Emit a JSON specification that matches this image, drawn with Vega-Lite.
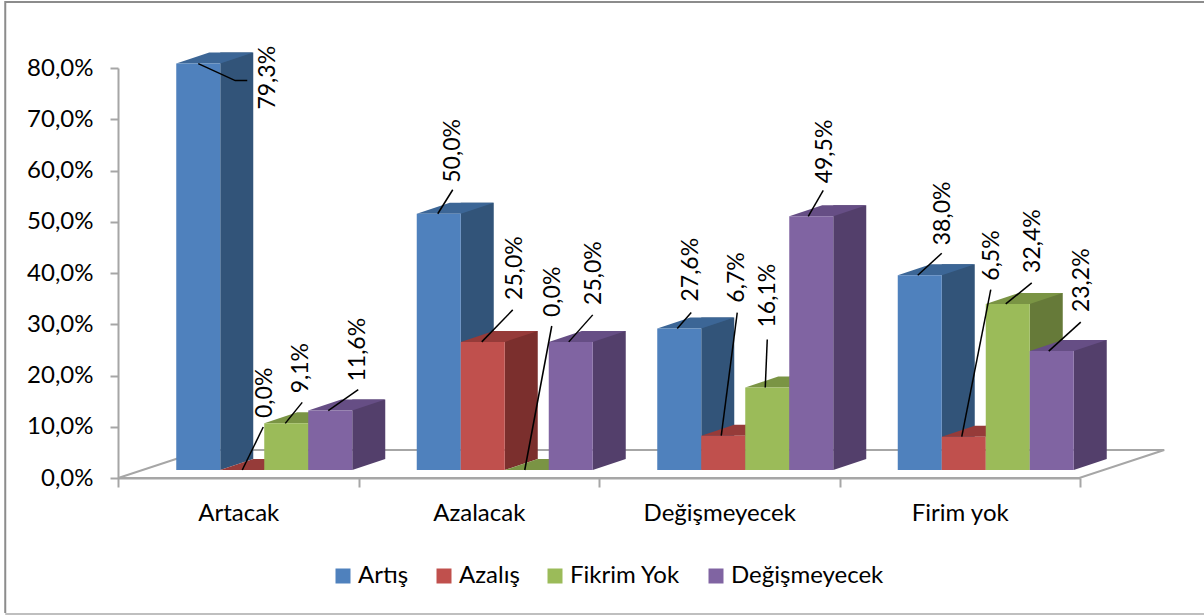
{"$schema":"https://vega.github.io/schema/vega-lite/v6.json","width":962,"height":410,"autosize":"none","padding":{"left":118,"top":68,"right":124,"bottom":137},"background":"white","config":{"view":{"stroke":null},"locale":{"number":{"decimal":",","thousands":".","grouping":[3],"currency":["","\u00a0TL"],"percent":"%"}},"font":"Lato"},"data":{"values":[{"id":"a1","group":"Artacak","series":"Artış","value":0.793},{"id":"a2","group":"Artacak","series":"Azalış","value":0},{"id":"a3","group":"Artacak","series":"Fikrim Yok","value":0.091},{"id":"a4","group":"Artacak","series":"Değişmeyecek","value":0.116},{"id":"b1","group":"Azalacak","series":"Artış","value":0.5},{"id":"b2","group":"Azalacak","series":"Azalış","value":0.25},{"id":"b3","group":"Azalacak","series":"Fikrim Yok","value":0},{"id":"b4","group":"Azalacak","series":"Değişmeyecek","value":0.25},{"id":"c1","group":"Değişmeyecek","series":"Artış","value":0.276},{"id":"c2","group":"Değişmeyecek","series":"Azalış","value":0.067},{"id":"c3","group":"Değişmeyecek","series":"Fikrim Yok","value":0.161},{"id":"c4","group":"Değişmeyecek","series":"Değişmeyecek","value":0.495},{"id":"d1","group":"Firim yok","series":"Artış","value":0.38},{"id":"d2","group":"Firim yok","series":"Azalış","value":0.065},{"id":"d3","group":"Firim yok","series":"Fikrim Yok","value":0.324},{"id":"d4","group":"Firim yok","series":"Değişmeyecek","value":0.232}]},"encoding":{"x":{"field":"group","type":"nominal","scale":{"domain":["Artacak","Azalacak","Değişmeyecek","Firim yok"],"paddingInner":0,"paddingOuter":0},"axis":{"title":null,"labelAngle":0,"tickBand":"extent","tickSize":9,"tickWidth":2,"tickColor":"#A6A6A6","domainColor":"#A6A6A6","domainWidth":2,"labelFont":"Lato","labelFontSize":24,"labelColor":"#000000","labelPadding":14,"grid":false}},"xOffset":{"field":"series","type":"nominal","scale":{"type":"point","domain":["Artış","Azalış","Fikrim Yok","Değişmeyecek"],"range":[58.25,190.25],"padding":0}},"y":{"field":"value","type":"quantitative","stack":null,"scale":{"domain":[0,0.8],"nice":false},"axis":{"title":null,"values":[0,0.1,0.2,0.3,0.4,0.5,0.6,0.7,0.8],"format":".1%","tickSize":8,"tickWidth":2,"tickColor":"#A6A6A6","domainColor":"#A6A6A6","domainWidth":2,"labelFont":"Lato","labelFontSize":24,"labelColor":"#000000","labelPadding":17,"grid":false}}},"resolve":{"scale":{"color":"independent","shape":"independent","xOffset":"independent"}},"layer":[{"transform":[{"filter":"datum.id==='a1'"}],"mark":{"type":"point","size":4,"filled":false,"opacity":1,"stroke":"#8C8C8C","strokeWidth":2,"shape":"M-171,135 L-171,-476 L1028,-476"},"encoding":{"y":{"datum":0}}},{"transform":[{"filter":"datum.id==='a1'"}],"mark":{"type":"point","size":4,"filled":false,"opacity":1,"stroke":"#BFBFBF","strokeWidth":2,"shape":"M-171,136 L1028,136"},"encoding":{"y":{"datum":0}}},{"transform":[{"filter":"datum.id==='a1'"}],"mark":{"type":"point","size":4,"filled":false,"opacity":1,"stroke":"#A6A6A6","strokeWidth":2,"shape":"M-58,0 L903,0 L988,-28 L27,-28 Z"},"encoding":{"y":{"datum":0}}},{"mark":{"type":"bar","width":33,"yOffset":-19,"y2Offset":-19},"encoding":{"y2":{"datum":0},"xOffset":{"field":"series","type":"nominal","scale":{"type":"band","domain":["Artış","Azalış","Fikrim Yok","Değişmeyecek"],"range":[96.75,272.75],"paddingInner":0,"paddingOuter":0}},"color":{"field":"series","type":"nominal","legend":null,"scale":{"domain":["Artış","Azalış","Fikrim Yok","Değişmeyecek"],"range":["#325479","#7B2F2D","#667A39","#533F6B"]}}}},{"transform":[{"filter":"datum.value>0"}],"mark":{"type":"point","size":4,"filled":true,"opacity":1,"yOffset":-8,"shape":"M44,0 L44,-11 L77,-11 Z"},"encoding":{"y":{"datum":0},"color":{"field":"series","type":"nominal","legend":null,"scale":{"domain":["Artış","Azalış","Fikrim Yok","Değişmeyecek"],"range":["#325479","#7B2F2D","#667A39","#533F6B"]}}}},{"mark":{"type":"point","size":4,"filled":true,"opacity":1,"yOffset":-8,"shape":"M0,0 L44,0 L77,-11 L33,-11 Z"},"encoding":{"color":{"field":"series","type":"nominal","legend":null,"scale":{"domain":["Artış","Azalış","Fikrim Yok","Değişmeyecek"],"range":["#3C6696","#963B39","#7A9444","#664E85"]}}}},{"mark":{"type":"bar","width":44,"yOffset":-8,"y2Offset":-8},"encoding":{"y2":{"datum":0},"xOffset":{"field":"series","type":"nominal","scale":{"type":"band","domain":["Artış","Azalış","Fikrim Yok","Değişmeyecek"],"range":[58.25,234.25],"paddingInner":0,"paddingOuter":0}},"color":{"field":"series","type":"nominal","scale":{"domain":["Artış","Azalış","Fikrim Yok","Değişmeyecek"],"range":["#4F81BD","#C0504D","#9BBB59","#8064A2"]},"legend":{"title":null,"orient":"none","legendX":213,"legendY":496,"direction":"horizontal","columns":4,"gridAlign":"none","symbolType":"square","symbolSize":225,"symbolStrokeWidth":0,"symbolOpacity":1,"labelFont":"Lato","labelFontSize":24,"labelColor":"#000000","labelOffset":3,"columnPadding":23,"labelLimit":300}}}},{"mark":{"type":"point","size":4,"filled":false,"opacity":1,"stroke":"#000000","strokeWidth":1.5,"yOffset":-8},"encoding":{"shape":{"field":"id","type":"nominal","legend":null,"scale":{"domain":["a1","a2","a3","a4","b1","b2","b3","b4","c1","c2","c3","c4","d1","d2","d3","d4"],"range":["M22,0 L59,17 L71,17","M22,0 L43,-43","M21,0 L38,-21","M20,0 L50,-21","M21,0 L36,-24","M21,0 L52,-32","M20,0 L47,-144","M20,0 L44,-27","M20,0 L34,-16","M20,0 L36,-123","M20,0 L22,-48","M19,0 L34,-26","M20,0 L44,-22","M20,0 L49,-147","M20,0 L46,-21","M19,0 L51,-29"]}}}},{"transform":[{"filter":"datum.id==='a1'"}],"mark":{"type":"text","angle":270,"align":"left","baseline":"middle","font":"Lato","fontSize":23,"color":"#000000","yOffset":-8,"dx":-46,"dy":92},"encoding":{"text":{"field":"value","type":"quantitative","format":".1%"}}},{"transform":[{"filter":"datum.id==='a2'"}],"mark":{"type":"text","angle":270,"align":"left","baseline":"middle","font":"Lato","fontSize":23,"color":"#000000","yOffset":-8,"dx":52,"dy":45},"encoding":{"text":{"field":"value","type":"quantitative","format":".1%"}}},{"transform":[{"filter":"datum.id==='a3'"}],"mark":{"type":"text","angle":270,"align":"left","baseline":"middle","font":"Lato","fontSize":23,"color":"#000000","yOffset":-8,"dx":30,"dy":37},"encoding":{"text":{"field":"value","type":"quantitative","format":".1%"}}},{"transform":[{"filter":"datum.id==='a4'"}],"mark":{"type":"text","angle":270,"align":"left","baseline":"middle","font":"Lato","fontSize":23,"color":"#000000","yOffset":-8,"dx":29,"dy":50},"encoding":{"text":{"field":"value","type":"quantitative","format":".1%"}}},{"transform":[{"filter":"datum.id==='b1'"}],"mark":{"type":"text","angle":270,"align":"left","baseline":"middle","font":"Lato","fontSize":23,"color":"#000000","yOffset":-8,"dx":31,"dy":36},"encoding":{"text":{"field":"value","type":"quantitative","format":".1%"}}},{"transform":[{"filter":"datum.id==='b2'"}],"mark":{"type":"text","angle":270,"align":"left","baseline":"middle","font":"Lato","fontSize":23,"color":"#000000","yOffset":-8,"dx":42,"dy":54},"encoding":{"text":{"field":"value","type":"quantitative","format":".1%"}}},{"transform":[{"filter":"datum.id==='b3'"}],"mark":{"type":"text","angle":270,"align":"left","baseline":"middle","font":"Lato","fontSize":23,"color":"#000000","yOffset":-8,"dx":153,"dy":48},"encoding":{"text":{"field":"value","type":"quantitative","format":".1%"}}},{"transform":[{"filter":"datum.id==='b4'"}],"mark":{"type":"text","angle":270,"align":"left","baseline":"middle","font":"Lato","fontSize":23,"color":"#000000","yOffset":-8,"dx":37,"dy":45},"encoding":{"text":{"field":"value","type":"quantitative","format":".1%"}}},{"transform":[{"filter":"datum.id==='c1'"}],"mark":{"type":"text","angle":270,"align":"left","baseline":"middle","font":"Lato","fontSize":23,"color":"#000000","yOffset":-8,"dx":27,"dy":34},"encoding":{"text":{"field":"value","type":"quantitative","format":".1%"}}},{"transform":[{"filter":"datum.id==='c2'"}],"mark":{"type":"text","angle":270,"align":"left","baseline":"middle","font":"Lato","fontSize":23,"color":"#000000","yOffset":-8,"dx":133,"dy":36},"encoding":{"text":{"field":"value","type":"quantitative","format":".1%"}}},{"transform":[{"filter":"datum.id==='c3'"}],"mark":{"type":"text","angle":270,"align":"left","baseline":"middle","font":"Lato","fontSize":23,"color":"#000000","yOffset":-8,"dx":60,"dy":23},"encoding":{"text":{"field":"value","type":"quantitative","format":".1%"}}},{"transform":[{"filter":"datum.id==='c4'"}],"mark":{"type":"text","angle":270,"align":"left","baseline":"middle","font":"Lato","fontSize":23,"color":"#000000","yOffset":-8,"dx":33,"dy":36},"encoding":{"text":{"field":"value","type":"quantitative","format":".1%"}}},{"transform":[{"filter":"datum.id==='d1'"}],"mark":{"type":"text","angle":270,"align":"left","baseline":"middle","font":"Lato","fontSize":23,"color":"#000000","yOffset":-8,"dx":30,"dy":45},"encoding":{"text":{"field":"value","type":"quantitative","format":".1%"}}},{"transform":[{"filter":"datum.id==='d2'"}],"mark":{"type":"text","angle":270,"align":"left","baseline":"middle","font":"Lato","fontSize":23,"color":"#000000","yOffset":-8,"dx":156,"dy":50},"encoding":{"text":{"field":"value","type":"quantitative","format":".1%"}}},{"transform":[{"filter":"datum.id==='d3'"}],"mark":{"type":"text","angle":270,"align":"left","baseline":"middle","font":"Lato","fontSize":23,"color":"#000000","yOffset":-8,"dx":31,"dy":47},"encoding":{"text":{"field":"value","type":"quantitative","format":".1%"}}},{"transform":[{"filter":"datum.id==='d4'"}],"mark":{"type":"text","angle":270,"align":"left","baseline":"middle","font":"Lato","fontSize":23,"color":"#000000","yOffset":-8,"dx":39,"dy":52},"encoding":{"text":{"field":"value","type":"quantitative","format":".1%"}}}]}
